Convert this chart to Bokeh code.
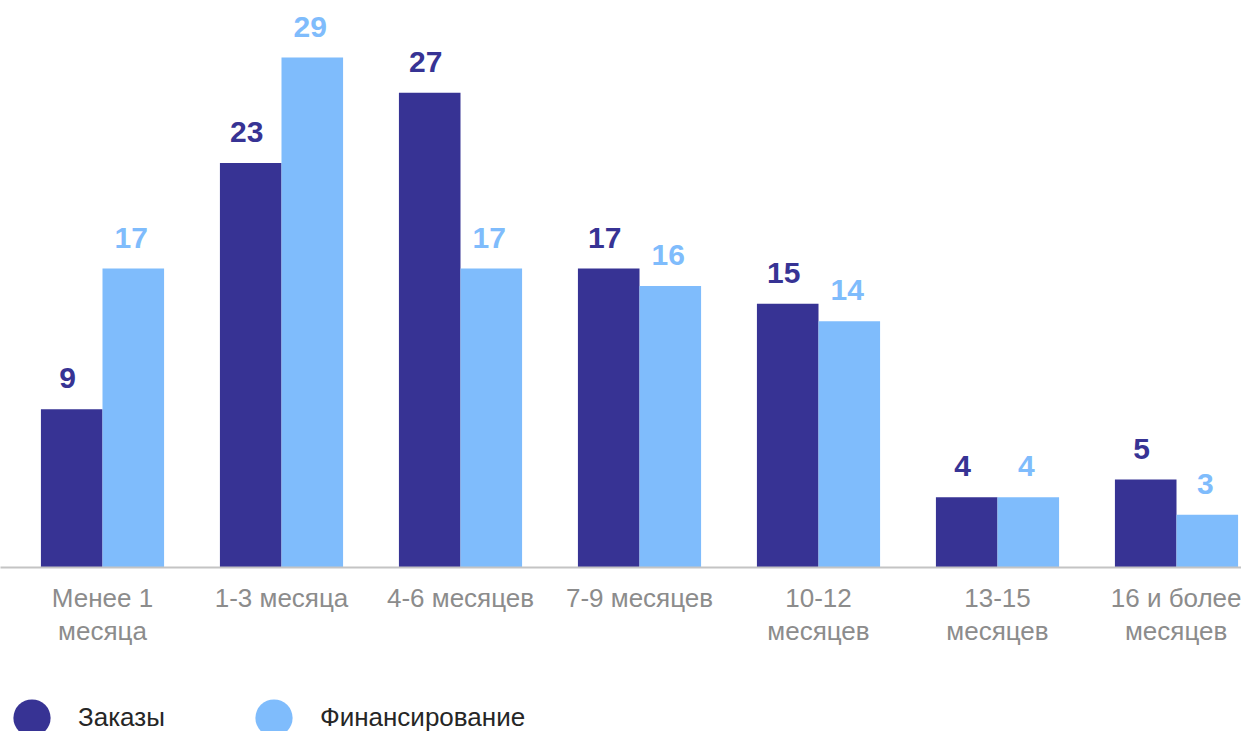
from bokeh.plotting import figure
from bokeh.layouts import column
from bokeh.models import (ColumnDataSource, Range1d, FixedTicker, LabelSet,
                          Legend, LegendItem)
from bokeh.core.properties import value
from bokeh.transform import dodge
from bokeh.embed import file_html
from bokeh.resources import INLINE

categories = ["Менее 1\nмесяца", "1-3 месяца", "4-6 месяцев", "7-9 месяцев",
              "10-12\nмесяцев", "13-15\nмесяцев", "16 и более\nмесяцев"]
orders = [9, 23, 27, 17, 15, 4, 5]
funding = [17, 29, 17, 16, 14, 4, 3]
series_names = ["Заказы", "Финансирование"]

DARK = "#373394"
LIGHT = "#7FBCFC"
FONT = "Arial"

xs = list(range(len(categories)))
src = ColumnDataSource(dict(x=xs, orders=orders, funding=funding,
                            orders_txt=[str(v) for v in orders],
                            funding_txt=[str(v) for v in funding]))

W = 1241
H1 = 650
FRAME_H = 567
px_per_group = 179.0
x_start = -102.0 / px_per_group
p = figure(width=W, height=H1, output_backend="svg", toolbar_location=None,
           x_range=Range1d(x_start, x_start + W / px_per_group),
           y_range=Range1d(0, FRAME_H / 17.586),
           min_border=0, min_border_left=0, min_border_right=0,
           min_border_top=0, min_border_bottom=H1 - FRAME_H,
           outline_line_color=None)
p.grid.visible = False
p.yaxis.visible = False

bw = 0.344
off = bw / 2
p.vbar(x=dodge("x", -off), top="orders", width=bw, source=src,
       fill_color=DARK, line_color=None)
p.vbar(x=dodge("x", off), top="funding", width=bw, source=src,
       fill_color=LIGHT, line_color=None)

for col, txt, dx, color, xo in [("orders", "orders_txt", -off, DARK, -4),
                                ("funding", "funding_txt", off, LIGHT, -2)]:
    p.add_layout(LabelSet(x=dodge("x", dx), y=col, text=txt, source=src,
                          x_offset=xo, y_offset=21, text_align="center",
                          text_baseline="alphabetic", text_color=color,
                          text_font=value(FONT), text_font_size="30px",
                          text_font_style="bold"))

ax = p.xaxis[0]
ax.ticker = FixedTicker(ticks=xs)
ax.major_label_overrides = {i: c for i, c in zip(xs, categories)}
ax.major_tick_line_color = None
ax.minor_tick_line_color = None
ax.axis_line_color = "#C4C4C4"
ax.axis_line_width = 2
ax.major_label_text_color = "#8C8C8C"
ax.major_label_text_font = FONT
ax.major_label_text_font_size = "26px"
ax.major_label_text_line_height = 1.1
ax.major_label_standoff = 9

# legend strip (swatch renderers sit outside the visible range; only their legend glyphs show)
H2 = 731 - H1
lg = figure(width=W, height=H2, output_backend="svg", toolbar_location=None,
            x_range=Range1d(0, 1), y_range=Range1d(0, 1),
            min_border=0, outline_line_color=None)
lg.axis.visible = False
lg.grid.visible = False
d1 = lg.scatter([5], [5], marker="circle", size=37, fill_color=DARK, line_color=None)
d2 = lg.scatter([5], [5], marker="circle", size=37, fill_color=LIGHT, line_color=None)
legend = Legend(items=[LegendItem(label=series_names[0], renderers=[d1]),
                       LegendItem(label=series_names[1], renderers=[d2])],
                orientation="horizontal", location=(-15, -33),
                glyph_width=93, glyph_height=93, label_standoff=0,
                spacing=62, padding=0, margin=0,
                border_line_color=None, background_fill_alpha=0,
                label_text_font=FONT, label_text_font_size="26px",
                label_text_line_height=1.0,
                label_text_color="#262626", label_text_baseline="middle")
lg.add_layout(legend, "center")

layout = column(p, lg, spacing=0)
open("out.html", "w").write(file_html(layout, INLINE))
